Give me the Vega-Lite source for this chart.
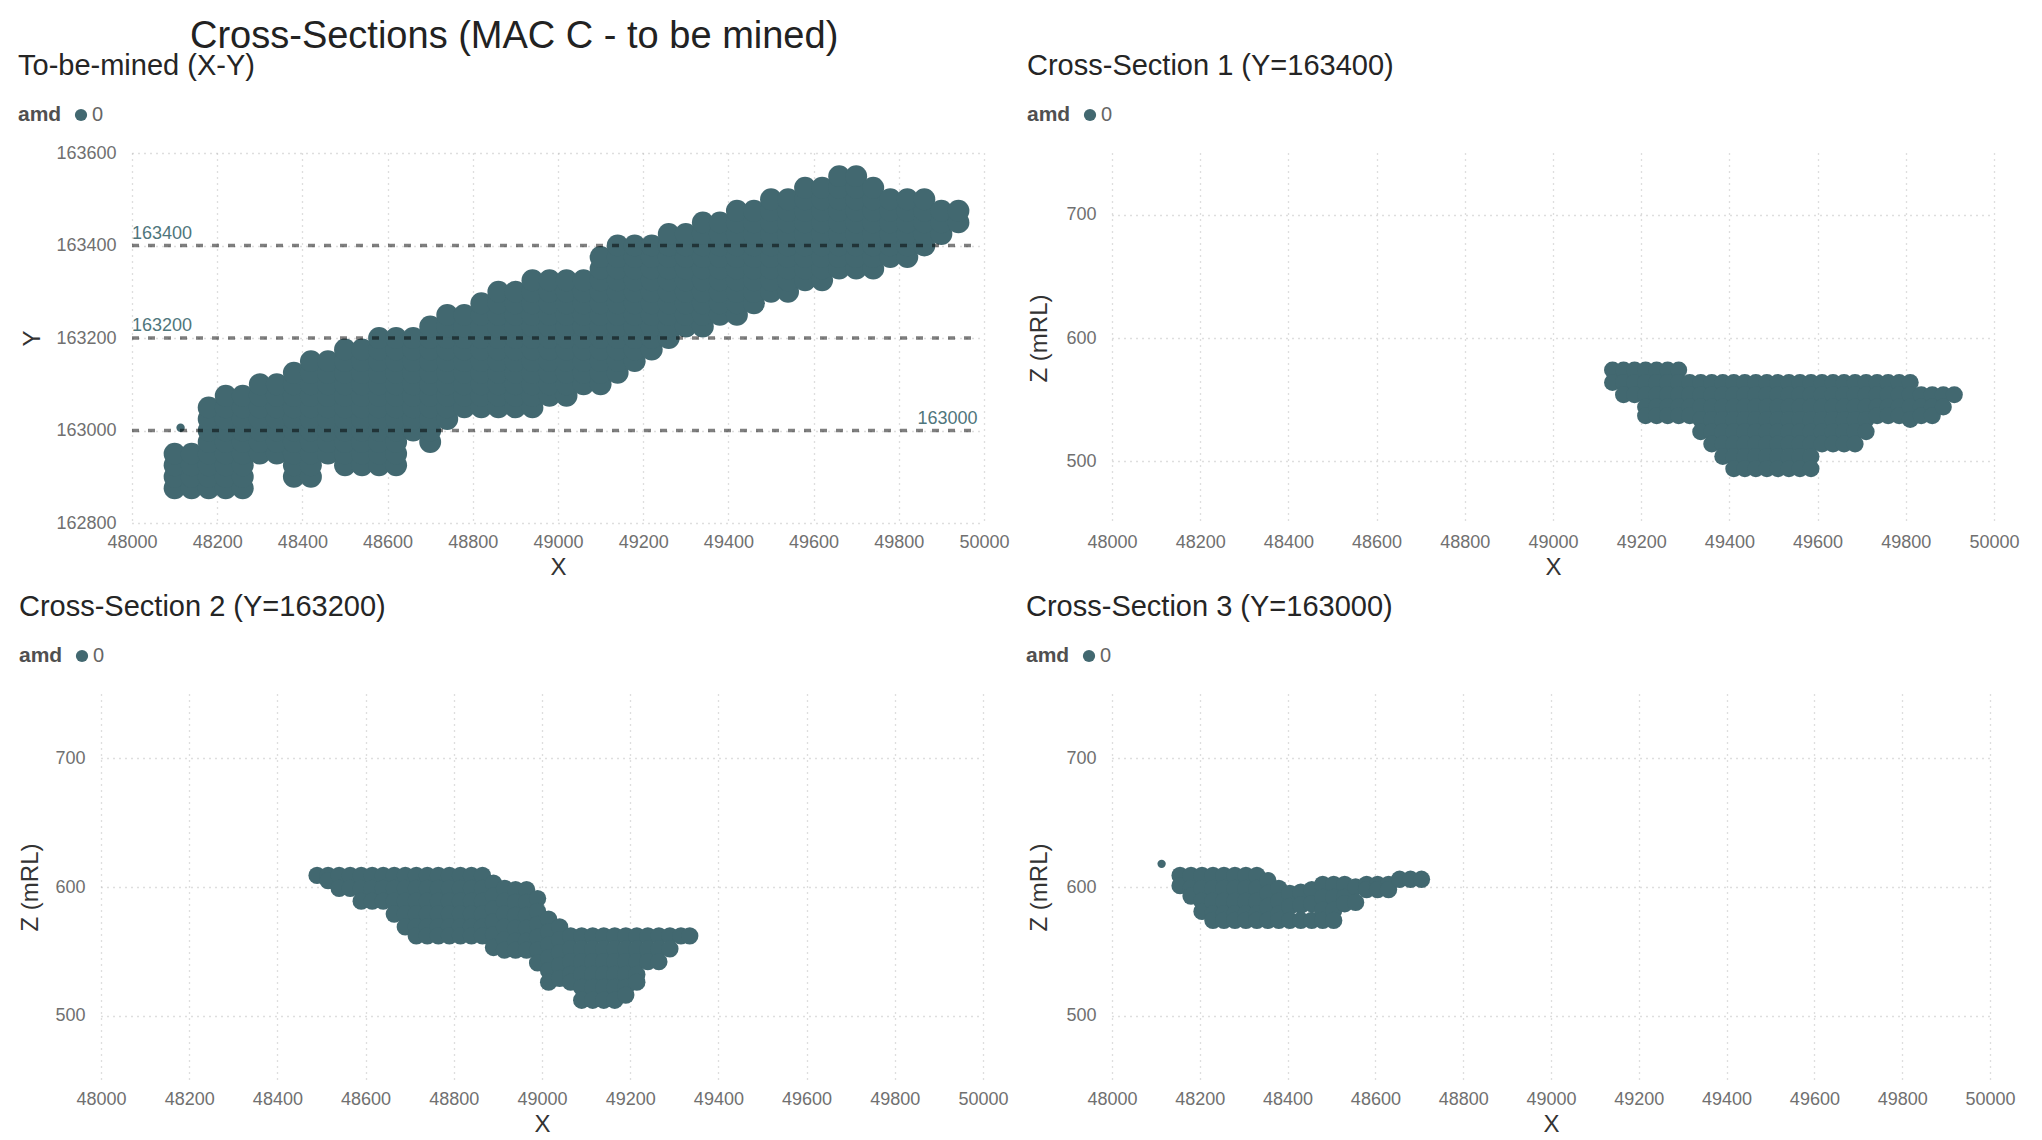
{
"$schema": "https://vega.github.io/schema/vega-lite/v6.json",
"background": "white",
"padding": {"left": 0, "top": 18, "right": 0, "bottom": 0},
"title": {"text": "Cross-Sections (MAC C - to be mined)", "fontSize": 38, "anchor": "start", "dx": 190, "offset": -4, "color": "#222222", "fontWeight": "normal"},
"resolve": {"scale": {"color": "independent"}, "legend": {"color": "independent"}},
"columns": 1,
"align": "none",
"spacing": 14,
"datasets": {
"spacer": [],
"lines": [{"y":163400},{"y":163200},{"y":163000}],
"xyiso": [{"x":48114,"y":163006}],
"xs3iso": [{"x":48113,"z":618}],
"xy": [
{"x":48100,"y":162875},{"x":48100,"y":162900},{"x":48100,"y":162925},{"x":48100,"y":162950},
{"x":48140,"y":162875},{"x":48140,"y":162900},{"x":48140,"y":162925},{"x":48140,"y":162950},
{"x":48180,"y":162875},{"x":48180,"y":162900},{"x":48180,"y":162925},{"x":48180,"y":162950},{"x":48180,"y":162975},{"x":48180,"y":163000},{"x":48180,"y":163025},{"x":48180,"y":163050},
{"x":48220,"y":162875},{"x":48220,"y":162900},{"x":48220,"y":162925},{"x":48220,"y":162950},{"x":48220,"y":162975},{"x":48220,"y":163000},{"x":48220,"y":163025},{"x":48220,"y":163050},{"x":48220,"y":163075},
{"x":48260,"y":162875},{"x":48260,"y":162900},{"x":48260,"y":162925},{"x":48260,"y":162950},{"x":48260,"y":162975},{"x":48260,"y":163000},{"x":48260,"y":163025},{"x":48260,"y":163050},{"x":48260,"y":163075},
{"x":48300,"y":162950},{"x":48300,"y":162975},{"x":48300,"y":163000},{"x":48300,"y":163025},{"x":48300,"y":163050},{"x":48300,"y":163075},{"x":48300,"y":163100},
{"x":48340,"y":162950},{"x":48340,"y":162975},{"x":48340,"y":163000},{"x":48340,"y":163025},{"x":48340,"y":163050},{"x":48340,"y":163075},{"x":48340,"y":163100},
{"x":48380,"y":162900},{"x":48380,"y":162925},{"x":48380,"y":162950},{"x":48380,"y":162975},{"x":48380,"y":163000},{"x":48380,"y":163025},{"x":48380,"y":163050},{"x":48380,"y":163075},{"x":48380,"y":163100},{"x":48380,"y":163125},
{"x":48420,"y":162900},{"x":48420,"y":162925},{"x":48420,"y":162950},{"x":48420,"y":162975},{"x":48420,"y":163000},{"x":48420,"y":163025},{"x":48420,"y":163050},{"x":48420,"y":163075},{"x":48420,"y":163100},{"x":48420,"y":163125},{"x":48420,"y":163150},
{"x":48460,"y":162950},{"x":48460,"y":162975},{"x":48460,"y":163000},{"x":48460,"y":163025},{"x":48460,"y":163050},{"x":48460,"y":163075},{"x":48460,"y":163100},{"x":48460,"y":163125},{"x":48460,"y":163150},
{"x":48500,"y":162925},{"x":48500,"y":162950},{"x":48500,"y":162975},{"x":48500,"y":163000},{"x":48500,"y":163025},{"x":48500,"y":163050},{"x":48500,"y":163075},{"x":48500,"y":163100},{"x":48500,"y":163125},{"x":48500,"y":163150},{"x":48500,"y":163175},
{"x":48540,"y":162925},{"x":48540,"y":162950},{"x":48540,"y":162975},{"x":48540,"y":163000},{"x":48540,"y":163025},{"x":48540,"y":163050},{"x":48540,"y":163075},{"x":48540,"y":163100},{"x":48540,"y":163125},{"x":48540,"y":163150},{"x":48540,"y":163175},
{"x":48580,"y":162925},{"x":48580,"y":162950},{"x":48580,"y":162975},{"x":48580,"y":163000},{"x":48580,"y":163025},{"x":48580,"y":163050},{"x":48580,"y":163075},{"x":48580,"y":163100},{"x":48580,"y":163125},{"x":48580,"y":163150},{"x":48580,"y":163175},{"x":48580,"y":163200},
{"x":48620,"y":162925},{"x":48620,"y":162950},{"x":48620,"y":162975},{"x":48620,"y":163000},{"x":48620,"y":163025},{"x":48620,"y":163050},{"x":48620,"y":163075},{"x":48620,"y":163100},{"x":48620,"y":163125},{"x":48620,"y":163150},{"x":48620,"y":163175},{"x":48620,"y":163200},
{"x":48660,"y":163000},{"x":48660,"y":163025},{"x":48660,"y":163050},{"x":48660,"y":163075},{"x":48660,"y":163100},{"x":48660,"y":163125},{"x":48660,"y":163150},{"x":48660,"y":163175},{"x":48660,"y":163200},
{"x":48700,"y":162975},{"x":48700,"y":163000},{"x":48700,"y":163025},{"x":48700,"y":163050},{"x":48700,"y":163075},{"x":48700,"y":163100},{"x":48700,"y":163125},{"x":48700,"y":163150},{"x":48700,"y":163175},{"x":48700,"y":163200},{"x":48700,"y":163225},
{"x":48740,"y":163025},{"x":48740,"y":163050},{"x":48740,"y":163075},{"x":48740,"y":163100},{"x":48740,"y":163125},{"x":48740,"y":163150},{"x":48740,"y":163175},{"x":48740,"y":163200},{"x":48740,"y":163225},{"x":48740,"y":163250},
{"x":48780,"y":163050},{"x":48780,"y":163075},{"x":48780,"y":163100},{"x":48780,"y":163125},{"x":48780,"y":163150},{"x":48780,"y":163175},{"x":48780,"y":163200},{"x":48780,"y":163225},{"x":48780,"y":163250},
{"x":48820,"y":163050},{"x":48820,"y":163075},{"x":48820,"y":163100},{"x":48820,"y":163125},{"x":48820,"y":163150},{"x":48820,"y":163175},{"x":48820,"y":163200},{"x":48820,"y":163225},{"x":48820,"y":163250},{"x":48820,"y":163275},
{"x":48860,"y":163050},{"x":48860,"y":163075},{"x":48860,"y":163100},{"x":48860,"y":163125},{"x":48860,"y":163150},{"x":48860,"y":163175},{"x":48860,"y":163200},{"x":48860,"y":163225},{"x":48860,"y":163250},{"x":48860,"y":163275},{"x":48860,"y":163300},
{"x":48900,"y":163050},{"x":48900,"y":163075},{"x":48900,"y":163100},{"x":48900,"y":163125},{"x":48900,"y":163150},{"x":48900,"y":163175},{"x":48900,"y":163200},{"x":48900,"y":163225},{"x":48900,"y":163250},{"x":48900,"y":163275},{"x":48900,"y":163300},
{"x":48940,"y":163050},{"x":48940,"y":163075},{"x":48940,"y":163100},{"x":48940,"y":163125},{"x":48940,"y":163150},{"x":48940,"y":163175},{"x":48940,"y":163200},{"x":48940,"y":163225},{"x":48940,"y":163250},{"x":48940,"y":163275},{"x":48940,"y":163300},{"x":48940,"y":163325},
{"x":48980,"y":163075},{"x":48980,"y":163100},{"x":48980,"y":163125},{"x":48980,"y":163150},{"x":48980,"y":163175},{"x":48980,"y":163200},{"x":48980,"y":163225},{"x":48980,"y":163250},{"x":48980,"y":163275},{"x":48980,"y":163300},{"x":48980,"y":163325},
{"x":49020,"y":163075},{"x":49020,"y":163100},{"x":49020,"y":163125},{"x":49020,"y":163150},{"x":49020,"y":163175},{"x":49020,"y":163200},{"x":49020,"y":163225},{"x":49020,"y":163250},{"x":49020,"y":163275},{"x":49020,"y":163300},{"x":49020,"y":163325},
{"x":49060,"y":163100},{"x":49060,"y":163125},{"x":49060,"y":163150},{"x":49060,"y":163175},{"x":49060,"y":163200},{"x":49060,"y":163225},{"x":49060,"y":163250},{"x":49060,"y":163275},{"x":49060,"y":163300},{"x":49060,"y":163325},
{"x":49100,"y":163100},{"x":49100,"y":163125},{"x":49100,"y":163150},{"x":49100,"y":163175},{"x":49100,"y":163200},{"x":49100,"y":163225},{"x":49100,"y":163250},{"x":49100,"y":163275},{"x":49100,"y":163300},{"x":49100,"y":163325},{"x":49100,"y":163350},{"x":49100,"y":163375},
{"x":49140,"y":163125},{"x":49140,"y":163150},{"x":49140,"y":163175},{"x":49140,"y":163200},{"x":49140,"y":163225},{"x":49140,"y":163250},{"x":49140,"y":163275},{"x":49140,"y":163300},{"x":49140,"y":163325},{"x":49140,"y":163350},{"x":49140,"y":163375},{"x":49140,"y":163400},
{"x":49180,"y":163150},{"x":49180,"y":163175},{"x":49180,"y":163200},{"x":49180,"y":163225},{"x":49180,"y":163250},{"x":49180,"y":163275},{"x":49180,"y":163300},{"x":49180,"y":163325},{"x":49180,"y":163350},{"x":49180,"y":163375},{"x":49180,"y":163400},
{"x":49220,"y":163175},{"x":49220,"y":163200},{"x":49220,"y":163225},{"x":49220,"y":163250},{"x":49220,"y":163275},{"x":49220,"y":163300},{"x":49220,"y":163325},{"x":49220,"y":163350},{"x":49220,"y":163375},{"x":49220,"y":163400},
{"x":49260,"y":163200},{"x":49260,"y":163225},{"x":49260,"y":163250},{"x":49260,"y":163275},{"x":49260,"y":163300},{"x":49260,"y":163325},{"x":49260,"y":163350},{"x":49260,"y":163375},{"x":49260,"y":163400},{"x":49260,"y":163425},
{"x":49300,"y":163225},{"x":49300,"y":163250},{"x":49300,"y":163275},{"x":49300,"y":163300},{"x":49300,"y":163325},{"x":49300,"y":163350},{"x":49300,"y":163375},{"x":49300,"y":163400},{"x":49300,"y":163425},
{"x":49340,"y":163225},{"x":49340,"y":163250},{"x":49340,"y":163275},{"x":49340,"y":163300},{"x":49340,"y":163325},{"x":49340,"y":163350},{"x":49340,"y":163375},{"x":49340,"y":163400},{"x":49340,"y":163425},{"x":49340,"y":163450},
{"x":49380,"y":163250},{"x":49380,"y":163275},{"x":49380,"y":163300},{"x":49380,"y":163325},{"x":49380,"y":163350},{"x":49380,"y":163375},{"x":49380,"y":163400},{"x":49380,"y":163425},{"x":49380,"y":163450},
{"x":49420,"y":163250},{"x":49420,"y":163275},{"x":49420,"y":163300},{"x":49420,"y":163325},{"x":49420,"y":163350},{"x":49420,"y":163375},{"x":49420,"y":163400},{"x":49420,"y":163425},{"x":49420,"y":163450},{"x":49420,"y":163475},
{"x":49460,"y":163275},{"x":49460,"y":163300},{"x":49460,"y":163325},{"x":49460,"y":163350},{"x":49460,"y":163375},{"x":49460,"y":163400},{"x":49460,"y":163425},{"x":49460,"y":163450},{"x":49460,"y":163475},
{"x":49500,"y":163300},{"x":49500,"y":163325},{"x":49500,"y":163350},{"x":49500,"y":163375},{"x":49500,"y":163400},{"x":49500,"y":163425},{"x":49500,"y":163450},{"x":49500,"y":163475},{"x":49500,"y":163500},
{"x":49540,"y":163300},{"x":49540,"y":163325},{"x":49540,"y":163350},{"x":49540,"y":163375},{"x":49540,"y":163400},{"x":49540,"y":163425},{"x":49540,"y":163450},{"x":49540,"y":163475},{"x":49540,"y":163500},
{"x":49580,"y":163325},{"x":49580,"y":163350},{"x":49580,"y":163375},{"x":49580,"y":163400},{"x":49580,"y":163425},{"x":49580,"y":163450},{"x":49580,"y":163475},{"x":49580,"y":163500},{"x":49580,"y":163525},
{"x":49620,"y":163325},{"x":49620,"y":163350},{"x":49620,"y":163375},{"x":49620,"y":163400},{"x":49620,"y":163425},{"x":49620,"y":163450},{"x":49620,"y":163475},{"x":49620,"y":163500},{"x":49620,"y":163525},
{"x":49660,"y":163350},{"x":49660,"y":163375},{"x":49660,"y":163400},{"x":49660,"y":163425},{"x":49660,"y":163450},{"x":49660,"y":163475},{"x":49660,"y":163500},{"x":49660,"y":163525},{"x":49660,"y":163550},
{"x":49700,"y":163350},{"x":49700,"y":163375},{"x":49700,"y":163400},{"x":49700,"y":163425},{"x":49700,"y":163450},{"x":49700,"y":163475},{"x":49700,"y":163500},{"x":49700,"y":163525},{"x":49700,"y":163550},
{"x":49740,"y":163350},{"x":49740,"y":163375},{"x":49740,"y":163400},{"x":49740,"y":163425},{"x":49740,"y":163450},{"x":49740,"y":163475},{"x":49740,"y":163500},{"x":49740,"y":163525},
{"x":49780,"y":163375},{"x":49780,"y":163400},{"x":49780,"y":163425},{"x":49780,"y":163450},{"x":49780,"y":163475},{"x":49780,"y":163500},
{"x":49820,"y":163375},{"x":49820,"y":163400},{"x":49820,"y":163425},{"x":49820,"y":163450},{"x":49820,"y":163475},{"x":49820,"y":163500},
{"x":49860,"y":163400},{"x":49860,"y":163425},{"x":49860,"y":163450},{"x":49860,"y":163475},{"x":49860,"y":163500},
{"x":49900,"y":163425},{"x":49900,"y":163450},{"x":49900,"y":163475},
{"x":49940,"y":163450},{"x":49940,"y":163475}
],
"xs1": [
{"x":49135,"z":574},{"x":49135,"z":564},
{"x":49160,"z":574},{"x":49160,"z":564},{"x":49160,"z":554},
{"x":49185,"z":574},{"x":49185,"z":564},{"x":49185,"z":554},
{"x":49210,"z":574},{"x":49210,"z":564},{"x":49210,"z":554},{"x":49210,"z":544},{"x":49210,"z":537},
{"x":49235,"z":574},{"x":49235,"z":564},{"x":49235,"z":554},{"x":49235,"z":544},{"x":49235,"z":537},
{"x":49260,"z":574},{"x":49260,"z":564},{"x":49260,"z":554},{"x":49260,"z":544},{"x":49260,"z":537},
{"x":49285,"z":574},{"x":49285,"z":564},{"x":49285,"z":554},{"x":49285,"z":544},{"x":49285,"z":537},
{"x":49310,"z":564},{"x":49310,"z":554},{"x":49310,"z":544},{"x":49310,"z":537},
{"x":49335,"z":564},{"x":49335,"z":554},{"x":49335,"z":544},{"x":49335,"z":534},{"x":49335,"z":524},
{"x":49360,"z":564},{"x":49360,"z":554},{"x":49360,"z":544},{"x":49360,"z":534},{"x":49360,"z":524},{"x":49360,"z":514},
{"x":49385,"z":564},{"x":49385,"z":554},{"x":49385,"z":544},{"x":49385,"z":534},{"x":49385,"z":524},{"x":49385,"z":514},{"x":49385,"z":504},
{"x":49410,"z":564},{"x":49410,"z":554},{"x":49410,"z":544},{"x":49410,"z":534},{"x":49410,"z":524},{"x":49410,"z":514},{"x":49410,"z":504},{"x":49410,"z":494},
{"x":49435,"z":564},{"x":49435,"z":554},{"x":49435,"z":544},{"x":49435,"z":534},{"x":49435,"z":524},{"x":49435,"z":514},{"x":49435,"z":504},{"x":49435,"z":494},
{"x":49460,"z":564},{"x":49460,"z":554},{"x":49460,"z":544},{"x":49460,"z":534},{"x":49460,"z":524},{"x":49460,"z":514},{"x":49460,"z":504},{"x":49460,"z":494},
{"x":49485,"z":564},{"x":49485,"z":554},{"x":49485,"z":544},{"x":49485,"z":534},{"x":49485,"z":524},{"x":49485,"z":514},{"x":49485,"z":504},{"x":49485,"z":494},
{"x":49510,"z":564},{"x":49510,"z":554},{"x":49510,"z":544},{"x":49510,"z":534},{"x":49510,"z":524},{"x":49510,"z":514},{"x":49510,"z":504},{"x":49510,"z":494},
{"x":49535,"z":564},{"x":49535,"z":554},{"x":49535,"z":544},{"x":49535,"z":534},{"x":49535,"z":524},{"x":49535,"z":514},{"x":49535,"z":504},{"x":49535,"z":494},
{"x":49560,"z":564},{"x":49560,"z":554},{"x":49560,"z":544},{"x":49560,"z":534},{"x":49560,"z":524},{"x":49560,"z":514},{"x":49560,"z":504},{"x":49560,"z":494},
{"x":49585,"z":564},{"x":49585,"z":554},{"x":49585,"z":544},{"x":49585,"z":534},{"x":49585,"z":524},{"x":49585,"z":514},{"x":49585,"z":504},{"x":49585,"z":494},
{"x":49610,"z":564},{"x":49610,"z":554},{"x":49610,"z":544},{"x":49610,"z":534},{"x":49610,"z":524},{"x":49610,"z":514},
{"x":49635,"z":564},{"x":49635,"z":554},{"x":49635,"z":544},{"x":49635,"z":534},{"x":49635,"z":524},{"x":49635,"z":514},
{"x":49660,"z":564},{"x":49660,"z":554},{"x":49660,"z":544},{"x":49660,"z":534},{"x":49660,"z":524},{"x":49660,"z":514},
{"x":49685,"z":564},{"x":49685,"z":554},{"x":49685,"z":544},{"x":49685,"z":534},{"x":49685,"z":524},{"x":49685,"z":514},
{"x":49710,"z":564},{"x":49710,"z":554},{"x":49710,"z":544},{"x":49710,"z":534},{"x":49710,"z":524},
{"x":49735,"z":564},{"x":49735,"z":554},{"x":49735,"z":544},{"x":49735,"z":537},
{"x":49760,"z":564},{"x":49760,"z":554},{"x":49760,"z":544},{"x":49760,"z":537},
{"x":49785,"z":564},{"x":49785,"z":554},{"x":49785,"z":544},{"x":49785,"z":537},
{"x":49810,"z":564},{"x":49810,"z":554},{"x":49810,"z":544},{"x":49810,"z":534},
{"x":49835,"z":554},{"x":49835,"z":544},{"x":49835,"z":537},
{"x":49860,"z":554},{"x":49860,"z":544},{"x":49860,"z":537},
{"x":49885,"z":554},{"x":49885,"z":544},
{"x":49910,"z":554}
],
"xs2": [
{"x":48490,"z":609},
{"x":48515,"z":609},{"x":48515,"z":605},
{"x":48540,"z":609},{"x":48540,"z":599},
{"x":48565,"z":609},{"x":48565,"z":599},
{"x":48590,"z":609},{"x":48590,"z":599},{"x":48590,"z":589},
{"x":48615,"z":609},{"x":48615,"z":599},{"x":48615,"z":589},
{"x":48640,"z":609},{"x":48640,"z":599},{"x":48640,"z":589},
{"x":48665,"z":609},{"x":48665,"z":599},{"x":48665,"z":589},{"x":48665,"z":579},
{"x":48690,"z":609},{"x":48690,"z":599},{"x":48690,"z":589},{"x":48690,"z":579},{"x":48690,"z":569},
{"x":48715,"z":609},{"x":48715,"z":599},{"x":48715,"z":589},{"x":48715,"z":579},{"x":48715,"z":569},{"x":48715,"z":562},
{"x":48740,"z":609},{"x":48740,"z":599},{"x":48740,"z":589},{"x":48740,"z":579},{"x":48740,"z":569},{"x":48740,"z":562},
{"x":48765,"z":609},{"x":48765,"z":599},{"x":48765,"z":589},{"x":48765,"z":579},{"x":48765,"z":569},{"x":48765,"z":562},
{"x":48790,"z":609},{"x":48790,"z":599},{"x":48790,"z":589},{"x":48790,"z":579},{"x":48790,"z":569},{"x":48790,"z":562},
{"x":48815,"z":609},{"x":48815,"z":599},{"x":48815,"z":589},{"x":48815,"z":579},{"x":48815,"z":569},{"x":48815,"z":562},
{"x":48840,"z":609},{"x":48840,"z":599},{"x":48840,"z":589},{"x":48840,"z":579},{"x":48840,"z":569},{"x":48840,"z":562},
{"x":48865,"z":609},{"x":48865,"z":599},{"x":48865,"z":589},{"x":48865,"z":579},{"x":48865,"z":569},{"x":48865,"z":562},
{"x":48890,"z":603},{"x":48890,"z":593},{"x":48890,"z":583},{"x":48890,"z":573},{"x":48890,"z":563},{"x":48890,"z":553},
{"x":48915,"z":599},{"x":48915,"z":589},{"x":48915,"z":579},{"x":48915,"z":569},{"x":48915,"z":559},{"x":48915,"z":551},
{"x":48940,"z":598},{"x":48940,"z":588},{"x":48940,"z":578},{"x":48940,"z":568},{"x":48940,"z":558},{"x":48940,"z":551},
{"x":48965,"z":598},{"x":48965,"z":588},{"x":48965,"z":578},{"x":48965,"z":568},{"x":48965,"z":558},{"x":48965,"z":551},
{"x":48990,"z":591},{"x":48990,"z":581},{"x":48990,"z":571},{"x":48990,"z":561},{"x":48990,"z":551},{"x":48990,"z":541},
{"x":49015,"z":575},{"x":49015,"z":565},{"x":49015,"z":555},{"x":49015,"z":545},{"x":49015,"z":535},{"x":49015,"z":526},
{"x":49040,"z":569},{"x":49040,"z":559},{"x":49040,"z":549},{"x":49040,"z":539},{"x":49040,"z":529},
{"x":49065,"z":562},{"x":49065,"z":552},{"x":49065,"z":542},{"x":49065,"z":532},{"x":49065,"z":526},
{"x":49090,"z":562},{"x":49090,"z":552},{"x":49090,"z":542},{"x":49090,"z":532},{"x":49090,"z":522},{"x":49090,"z":512},
{"x":49115,"z":562},{"x":49115,"z":552},{"x":49115,"z":542},{"x":49115,"z":532},{"x":49115,"z":522},{"x":49115,"z":512},
{"x":49140,"z":562},{"x":49140,"z":552},{"x":49140,"z":542},{"x":49140,"z":532},{"x":49140,"z":522},{"x":49140,"z":512},
{"x":49165,"z":562},{"x":49165,"z":552},{"x":49165,"z":542},{"x":49165,"z":532},{"x":49165,"z":522},{"x":49165,"z":512},
{"x":49190,"z":562},{"x":49190,"z":552},{"x":49190,"z":542},{"x":49190,"z":532},{"x":49190,"z":522},{"x":49190,"z":516},
{"x":49215,"z":562},{"x":49215,"z":552},{"x":49215,"z":542},{"x":49215,"z":532},{"x":49215,"z":526},
{"x":49240,"z":562},{"x":49240,"z":552},{"x":49240,"z":542},
{"x":49265,"z":562},{"x":49265,"z":552},{"x":49265,"z":542},
{"x":49290,"z":562},{"x":49290,"z":552},
{"x":49315,"z":562},
{"x":49335,"z":562}
],
"xs3": [
{"x":48155,"z":609},{"x":48155,"z":601},
{"x":48180,"z":609},{"x":48180,"z":599},{"x":48180,"z":593},
{"x":48205,"z":609},{"x":48205,"z":599},{"x":48205,"z":589},{"x":48205,"z":581},
{"x":48230,"z":609},{"x":48230,"z":599},{"x":48230,"z":589},{"x":48230,"z":579},{"x":48230,"z":574},
{"x":48255,"z":609},{"x":48255,"z":599},{"x":48255,"z":589},{"x":48255,"z":579},{"x":48255,"z":574},
{"x":48280,"z":609},{"x":48280,"z":599},{"x":48280,"z":589},{"x":48280,"z":579},{"x":48280,"z":574},
{"x":48305,"z":609},{"x":48305,"z":599},{"x":48305,"z":589},{"x":48305,"z":579},{"x":48305,"z":574},
{"x":48330,"z":609},{"x":48330,"z":599},{"x":48330,"z":589},{"x":48330,"z":579},{"x":48330,"z":574},
{"x":48355,"z":605},{"x":48355,"z":595},{"x":48355,"z":585},{"x":48355,"z":574},
{"x":48380,"z":599},{"x":48380,"z":589},{"x":48380,"z":579},{"x":48380,"z":574},
{"x":48405,"z":595},{"x":48405,"z":585},{"x":48405,"z":574},
{"x":48430,"z":596},{"x":48430,"z":586},{"x":48430,"z":574},
{"x":48455,"z":598},{"x":48455,"z":587},{"x":48455,"z":574},
{"x":48480,"z":602},{"x":48480,"z":592},{"x":48480,"z":582},{"x":48480,"z":574},
{"x":48505,"z":602},{"x":48505,"z":592},{"x":48505,"z":582},{"x":48505,"z":574},
{"x":48530,"z":602},{"x":48530,"z":592},{"x":48530,"z":587},
{"x":48555,"z":600},{"x":48555,"z":588},
{"x":48580,"z":602},{"x":48580,"z":598},
{"x":48605,"z":602},{"x":48605,"z":598},
{"x":48630,"z":602},{"x":48630,"z":598},
{"x":48655,"z":606},
{"x":48680,"z":606},
{"x":48705,"z":606}
]
},
"concat": [
{"hconcat": [
{"width": 1, "height": 1, "data": {"name": "spacer"}, "mark": {"type": "point", "opacity": 0}},
{"title": {"text": "To-be-mined (X-Y)", "offset": 24},
 "width": 852, "height": 370,
 "layer": [
  {"data": {"name": "xy"},
   "mark": {"type": "circle", "size": 480, "opacity": 1},
   "encoding": {
    "x": {"field": "x", "type": "quantitative", "scale": {"domain": [48000, 50000], "nice": false, "zero": false}, "axis": {"title": "X", "values": [48000,48200,48400,48600,48800,49000,49200,49400,49600,49800,50000], "format": "d"}},
    "y": {"field": "y", "type": "quantitative", "scale": {"domain": [162800, 163600], "nice": false, "zero": false}, "axis": {"title": "Y", "titlePadding": 11, "values": [162800,163000,163200,163400,163600], "format": "d"}},
    "color": {"datum": "0", "type": "nominal", "scale": {"range": ["#426870"]}, "legend": {"title": "amd", "orient": "none", "legendX": -114, "legendY": -48}}
   }},
  {"data": {"name": "xyiso"},
   "mark": {"type": "circle", "size": 70, "opacity": 1, "color": "#426870"},
   "encoding": {"x": {"field": "x", "type": "quantitative"}, "y": {"field": "y", "type": "quantitative"}}},
  {"data": {"name": "lines"},
   "mark": {"type": "rule", "strokeDash": [7, 9], "strokeWidth": 3.5, "color": "#000000", "opacity": 0.5},
   "encoding": {"y": {"field": "y", "type": "quantitative"}, "x": {"datum": 48000, "type": "quantitative"}, "x2": {"datum": 49985}}},
  {"data": {"name": "lines"},
   "transform": [{"filter": "datum.y > 163000"}],
   "mark": {"type": "text", "align": "left", "baseline": "alphabetic", "dy": -7, "fontSize": 18, "color": "#4f767c"},
   "encoding": {"x": {"datum": 48000, "type": "quantitative"}, "y": {"field": "y", "type": "quantitative"}, "text": {"field": "y", "type": "quantitative", "format": "d"}}},
  {"data": {"name": "lines"},
   "transform": [{"filter": "datum.y <= 163000"}],
   "mark": {"type": "text", "align": "right", "baseline": "alphabetic", "dy": -7, "fontSize": 18, "color": "#4f767c"},
   "encoding": {"x": {"datum": 49985, "type": "quantitative"}, "y": {"field": "y", "type": "quantitative"}, "text": {"field": "y", "type": "quantitative", "format": "d"}}}
 ]},
{"title": {"text": "Cross-Section 1 (Y=163400)", "offset": 24},
 "width": 882, "height": 370,
 "data": {"name": "xs1"},
 "mark": {"type": "circle", "size": 290, "opacity": 1},
 "encoding": {
  "x": {"field": "x", "type": "quantitative", "scale": {"domain": [48000, 50000], "nice": false, "zero": false}, "axis": {"title": "X", "values": [48000,48200,48400,48600,48800,49000,49200,49400,49600,49800,50000], "format": "d"}},
  "y": {"field": "z", "type": "quantitative", "scale": {"domain": [450, 750], "nice": false, "zero": false}, "axis": {"title": "Z (mRL)", "values": [500, 600, 700], "format": "d"}},
  "color": {"datum": "0", "type": "nominal", "scale": {"range": ["#426870"]}, "legend": {"title": "amd", "orient": "none", "legendX": -85, "legendY": -48}}
 }}
], "spacing": 17, "resolve": {"scale": {"color": "independent"}, "legend": {"color": "independent"}}},
{"hconcat": [
{"width": 1, "height": 1, "data": {"name": "spacer"}, "mark": {"type": "point", "opacity": 0}},
{"title": {"text": "Cross-Section 2 (Y=163200)", "offset": 24},
 "width": 882, "height": 386,
 "data": {"name": "xs2"},
 "mark": {"type": "circle", "size": 300, "opacity": 1},
 "encoding": {
  "x": {"field": "x", "type": "quantitative", "scale": {"domain": [48000, 50000], "nice": false, "zero": false}, "axis": {"title": "X", "values": [48000,48200,48400,48600,48800,49000,49200,49400,49600,49800,50000], "format": "d"}},
  "y": {"field": "z", "type": "quantitative", "scale": {"domain": [450, 750], "nice": false, "zero": false}, "axis": {"title": "Z (mRL)", "titlePadding": 12, "values": [500, 600, 700], "format": "d"}},
  "color": {"datum": "0", "type": "nominal", "scale": {"range": ["#426870"]}, "legend": {"title": "amd", "orient": "none", "legendX": -82, "legendY": -48}}
 }},
{"title": {"text": "Cross-Section 3 (Y=163000)", "offset": 24},
 "width": 878, "height": 386,
 "layer": [
  {"data": {"name": "xs3"},
   "mark": {"type": "circle", "size": 300, "opacity": 1},
   "encoding": {
    "x": {"field": "x", "type": "quantitative", "scale": {"domain": [48000, 50000], "nice": false, "zero": false}, "axis": {"title": "X", "values": [48000,48200,48400,48600,48800,49000,49200,49400,49600,49800,50000], "format": "d"}},
    "y": {"field": "z", "type": "quantitative", "scale": {"domain": [450, 750], "nice": false, "zero": false}, "axis": {"title": "Z (mRL)", "values": [500, 600, 700], "format": "d"}},
    "color": {"datum": "0", "type": "nominal", "scale": {"range": ["#426870"]}, "legend": {"title": "amd", "orient": "none", "legendX": -86, "legendY": -48}}
   }},
  {"data": {"name": "xs3iso"},
   "mark": {"type": "circle", "size": 70, "opacity": 1, "color": "#426870"},
   "encoding": {"x": {"field": "x", "type": "quantitative"}, "y": {"field": "z", "type": "quantitative"}}}
 ]}
], "spacing": 17, "resolve": {"scale": {"color": "independent"}, "legend": {"color": "independent"}}}
],
"config": {
 "font": "Liberation Sans",
 "view": {"stroke": null},
 "title": {"font": "Liberation Sans", "fontSize": 29, "fontWeight": "normal", "color": "#252525", "anchor": "start"},
 "axis": {"labelFont": "Liberation Sans", "labelFontSize": 18, "labelColor": "#707070", "titleFont": "Liberation Sans", "titleFontSize": 24, "titleFontWeight": "normal", "titleColor": "#333333", "domain": false, "ticks": false, "tickSize": 0, "gridColor": "#bdbdbd", "gridDash": [1, 5], "gridWidth": 1.3},
 "axisX": {"labelPadding": 10, "titlePadding": 4, "labelFlush": false},
 "axisY": {"labelPadding": 16, "titlePadding": 14},
 "legend": {"direction": "horizontal", "titleOrient": "left", "titleFont": "Liberation Sans", "titleFontSize": 21, "titleFontWeight": "bold", "titleColor": "#505050", "titlePadding": 9, "labelFont": "Liberation Sans", "labelFontSize": 20, "labelColor": "#666666", "symbolSize": 150, "symbolType": "circle", "labelOffset": 1}
}
}
